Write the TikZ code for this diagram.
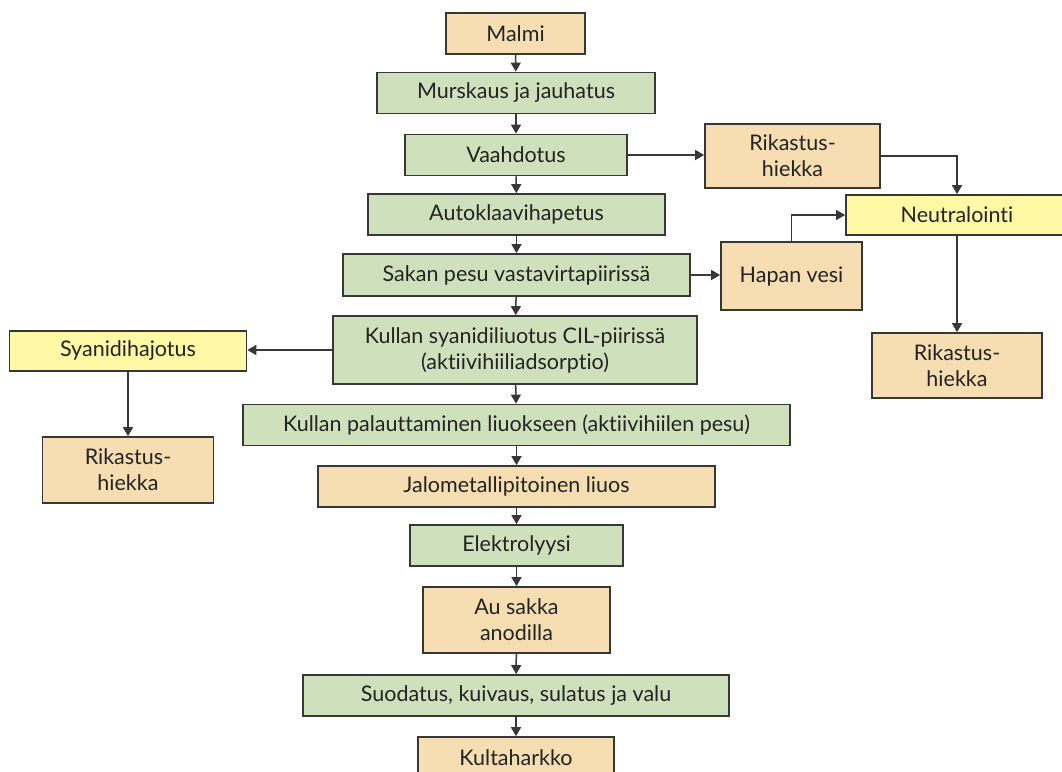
\documentclass[tikz,border=0pt]{standalone}
\usepackage{fontspec}
\setmainfont[Ligatures=NoCommon]{Lato}
\usetikzlibrary{arrows.meta}
\definecolor{peach}{RGB}{246,221,178}
\definecolor{sage}{RGB}{206,225,188}
\definecolor{lemon}{RGB}{255,248,164}
\definecolor{edge}{RGB}{55,55,55}
\definecolor{ink}{RGB}{35,35,35}
\tikzset{
  box/.style={draw=edge, line width=1.7pt, inner sep=0pt, align=center,
    text=ink, font=\fontsize{21.5}{26}\selectfont},
  peachbox/.style={box, fill=peach},
  sagebox/.style={box, fill=sage},
  lemonbox/.style={box, fill=lemon},
  flow/.style={draw=edge, line width=1.5pt,
    -{Triangle[length=9pt,width=10pt]}},
}
\newcommand{\bx}[7]{% style, name, cx, cy, w, h, text
  \node[#1, minimum width=#5, minimum height=#6] (#2) at (#3,#4) {#7};}
\begin{document}
\begin{tikzpicture}[x=1pt,y=-1pt]
\useasboundingbox (0,0) rectangle (1062,771);
% main process chain
\bx{peachbox}{malmi}{515.5}{33.5}{139}{41}{Malmi}
\bx{sagebox}{murs}{516}{93}{278}{41}{Murskaus ja jauhatus}
\bx{sagebox}{vaah}{516}{155}{222}{41}{Vaahdotus}
\bx{sagebox}{auto}{516.5}{214.5}{297}{41}{Autoklaavihapetus}
\bx{sagebox}{sakan}{516.5}{275}{347}{42}{Sakan pesu vastavirtapiirissä}
\bx{sagebox}{cil}{515}{350}{364}{68}{Kullan syanidiliuotus CIL-piirissä\\(aktiivihiiliadsorptio)}
\bx{sagebox}{pal}{516.5}{425}{547}{41}{Kullan palauttaminen liuokseen (aktiivihiilen pesu)}
\bx{peachbox}{jalo}{516.5}{486.5}{397}{41}{Jalometallipitoinen liuos}
\bx{sagebox}{elek}{516.5}{545.5}{213}{41}{Elektrolyysi}
\bx{peachbox}{au}{516.5}{620}{187}{66}{Au sakka\\anodilla}
\bx{sagebox}{suod}{516}{695.5}{426}{41}{Suodatus, kuivaus, sulatus ja valu}
\bx{peachbox}{kulta}{516}{757.5}{196}{41}{Kultaharkko}
% side streams
\bx{peachbox}{rik1}{792.5}{156}{175}{64}{Rikastus-\\hiekka}
\bx{lemonbox}{neut}{957}{215}{222}{40}{Neutralointi}
\bx{peachbox}{hapan}{791.5}{276}{141}{68}{Hapan vesi}
\bx{peachbox}{rik2}{957}{365.5}{170}{65}{Rikastus-\\hiekka}
\bx{lemonbox}{syan}{128}{351}{237}{40}{Syanidihajotus}
\bx{peachbox}{rik3}{128}{470}{171}{66}{Rikastus-\\hiekka}
% connectors
\draw[flow] (malmi) -- (murs);
\draw[flow] (murs) -- (vaah);
\draw[flow] (vaah) -- (auto);
\draw[flow] (auto) -- (sakan);
\draw[flow] (sakan) -- (cil);
\draw[flow] (cil) -- (pal);
\draw[flow] (pal) -- (jalo);
\draw[flow] (jalo) -- (elek);
\draw[flow] (elek) -- (au);
\draw[flow] (au) -- (suod);
\draw[flow] (suod) -- (kulta);
\draw[flow] (vaah.east) -- (vaah.east -| rik1.west);
\draw[flow] (rik1.east) -| (neut.north);
\draw[flow] (sakan.east) -- (sakan.east -| hapan.west);
\draw[flow] (hapan.north) |- (neut.west);
\draw[flow] (neut.south) -- (rik2.north);
\draw[flow] (cil.west) -- (cil.west -| syan.east);
\draw[flow] (syan.south) -- (rik3.north);
\end{tikzpicture}
\end{document}
